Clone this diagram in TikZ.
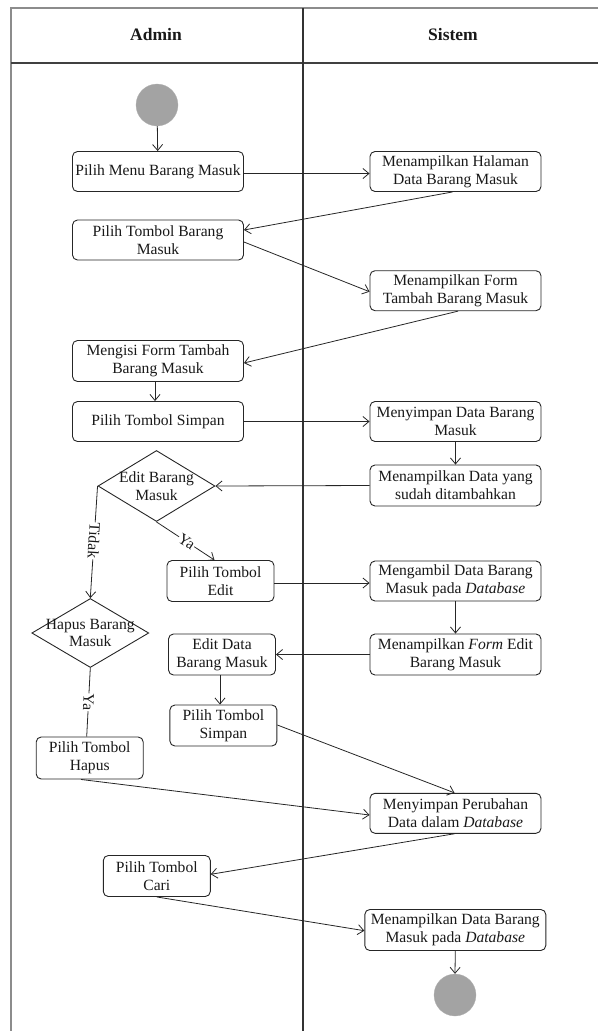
\documentclass[tikz,border=0pt]{standalone}
\usepackage{fontspec}
\setmainfont{Liberation Serif}
\usetikzlibrary{arrows.meta,shapes.geometric,calc}
\newcommand\actfont{\fontsize{15.6}{17.7}\selectfont}
\newcommand\headfont{\fontsize{17.5}{20}\selectfont\bfseries}
\begin{document}
\begin{tikzpicture}[x=1pt,y=-1pt,
  act/.style={draw=black!85, rounded corners=5pt, line width=0.9pt, fill=white,
    align=center, inner sep=0pt, font=\actfont, text=black!90,
    minimum width=171pt, minimum height=40pt},
  small/.style={act, minimum width=107pt, minimum height=41pt},
  dec/.style={draw=black!85, diamond, line width=0.9pt, inner sep=0pt},
  dectext/.style={align=center, inner sep=0pt, font=\actfont, text=black!90},
  dot/.style={circle, fill=black!36, draw=black!30, line width=0.3pt, minimum size=42pt, inner sep=0pt},
  flow/.style={draw=black!85, line width=0.8pt, -{Straight Barb[length=6pt,width=10pt]}},
  plain/.style={draw=black!85, line width=0.8pt},
  lbl/.style={fill=white, inner sep=0.6pt, font=\actfont, text=black!90, sloped, allow upside down},
  frame/.style={line width=1.4pt}
]
\useasboundingbox (0,0) rectangle (598,1031);
% swimlane frame
\coordinate (tl) at (11,8);
\coordinate (tr) at (598,8);
\coordinate (hl) at (11,63);
\coordinate (hr) at (598,63);
\coordinate (bl) at (11,1031);
\coordinate (dt) at (303,8);
\coordinate (db) at (303,1031);
\draw[frame, draw=black!45] (tr) -- (tl) -- (bl);
\draw[frame, draw=black!75] (hl) -- (hr);
\draw[frame, draw=black!80, line width=1.2pt] (dt) -- (db);
\node[font=\headfont, text=black!90] (hadmin) at (156,35) {Admin};
\node[font=\headfont, text=black!90] (hsistem) at (453,35) {Sistem};

% nodes
\node[dot] (start) at (157,105) {};
\node[act] (b1) at (158,171.5) {Pilih Menu Barang Masuk};
\node[act] (s1) at (455.5,171.5) {Menampilkan Halaman\\Data Barang Masuk};
\node[act] (b2) at (158,240) {Pilih Tombol Barang\\Masuk};
\node[act] (s2) at (455.5,290.7) {Menampilkan Form\\Tambah Barang Masuk};
\node[act, minimum height=41pt] (b3) at (158,361) {Mengisi Form Tambah\\Barang Masuk};
\node[act] (b4) at (158,421.5) {Pilih Tombol Simpan};
\node[act] (s3) at (455.5,421.5) {Menyimpan Data Barang\\Masuk};
\node[act, minimum height=41pt] (s4) at (455.5,485.5) {Menampilkan Data yang\\sudah ditambahkan};
\node[dec, minimum width=117pt, minimum height=71pt] (d1) at (156.5,486) {};
\node[dectext] (d1t) at (156.5,486) {Edit Barang\\Masuk};
\node[small] (bedit) at (220.5,581) {Pilih Tombol\\Edit};
\node[act] (s5) at (455.5,581) {Mengambil Data Barang\\Masuk pada \textit{Database}};
\node[act, minimum height=41pt] (s6) at (455.5,654.5) {Menampilkan \textit{Form} Edit\\Barang Masuk};
\node[small] (bed) at (222,654.5) {Edit Data\\Barang Masuk};
\node[dec, minimum width=117pt, minimum height=69pt] (d2) at (90.3,633) {};
\node[dectext] (d2t) at (90.3,633) {Hapus Barang\\Masuk};
\node[small] (bs2) at (223.4,725.5) {Pilih Tombol\\Simpan};
\node[small, minimum height=42pt] (bh) at (89.7,758) {Pilih Tombol\\Hapus};
\node[act] (s7) at (455.5,813.3) {Menyimpan Perubahan\\Data dalam \textit{Database}};
\node[small] (bc) at (156.8,876) {Pilih Tombol\\Cari};
\node[act, minimum width=181pt, minimum height=41pt] (s8) at (455.3,930) {Menampilkan Data Barang\\Masuk pada \textit{Database}};
\node[dot] (end) at (455,995) {};

% connectors
\draw[flow] (start) -- (b1);
\draw[flow] ([yshift=-2pt]b1.east) -- ([yshift=-2pt]s1.west);
\draw[flow] ([xshift=-3pt]s1.south) -- ([yshift=10pt]b2.east);
\draw[flow] ([yshift=-2pt]b2.east) -- ([yshift=-1pt]s2.west);
\draw[flow] ([xshift=2.5pt]s2.south) -- ([yshift=-2pt]b3.east);
\draw[flow] ([xshift=-3pt]b3.south) -- ([xshift=-3pt]b4.north);
\draw[flow] (b4.east) -- (s3.west);
\draw[flow] (s3.south) -- (s4.north);
\draw[flow] (s4.west) -- (d1.east);
\draw[flow] (d1.west) -- node[lbl, pos=0.49] (ltidak) {Tidak} (d2.north);
\draw[flow] (d1.south) -- node[lbl, pos=0.52] (lya1) {Ya} ([xshift=-6pt]bedit.north);
\draw[flow] ([yshift=-2pt]bedit.east) -- ([yshift=-2pt]s5.west);
\draw[flow] (s5.south) -- (s6.north);
\draw[flow] (s6.west) -- (bed.east);
\draw[flow] ([xshift=-2pt]bed.south) -- ([xshift=-3.4pt]bs2.north);
\draw[plain] (d2.south) -- node[lbl, pos=0.5] (lya2) {Ya} ([xshift=-3pt]bh.north);
\draw[flow] ([yshift=0.5pt]bs2.east) -- ([xshift=-1pt]s7.north);
\draw[flow] ([xshift=-8.7pt]bh.south) -- ([yshift=-1.7pt]s7.west);
\draw[flow] ([xshift=-1pt]s7.south) -- ([yshift=1.7pt]bc.east);
\draw[flow] (bc.south) -- ([yshift=-0.7pt]s8.west);
\draw[flow] (s8.south) -- (end.north);
\end{tikzpicture}
\end{document}
